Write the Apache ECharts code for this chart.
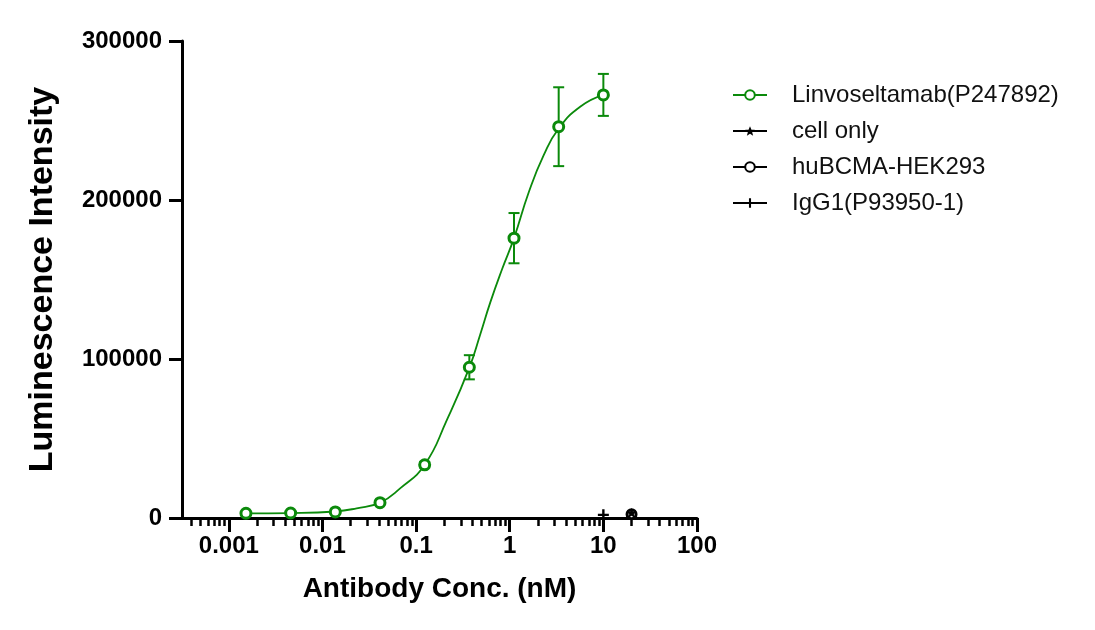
<!DOCTYPE html>
<html>
<head>
<meta charset="utf-8">
<script src="https://cdn.jsdelivr.net/npm/echarts@6/dist/echarts.min.js"></script>
<style>
html,body{margin:0;padding:0;background:#fff;}
#chart{width:1095px;height:630px;}
</style>
</head>
<body>
<div id="chart"></div>
<script>
// ---- data (concentration in nM, luminescence) ----
var conc = [0.001524, 0.004572, 0.01372, 0.04115, 0.1235, 0.3704, 1.111, 3.333, 10];
var linvoMean = [2970, 3160, 3800, 9660, 33470, 94800, 176000, 246100, 266100];
var linvoErr  = [500, 500, 700, 1000, 1800, 7600, 15800, 24800, 13200];

// fitted curve
var fitConc = [0.001524, 0.0046, 0.0137, 0.0232, 0.0412, 0.068, 0.1235, 0.214, 0.3704, 0.485, 0.62, 0.83, 1.111, 1.6, 2.3, 3.333, 5.7, 10];
var fitVal  = [2900, 3100, 4100, 6100, 9660, 18760, 33470, 61900, 94550, 115580, 135600, 156600, 176000, 205000, 228000, 245000, 258800, 266100];

var cellOnlyConc = [20];
var cellOnlyVal  = [3200];
var hekConc = [20];
var hekVal  = [2400];
var iggConc = [10];
var iggVal  = [2000];

var xMajorTicks = [0.001, 0.01, 0.1, 1, 10, 100];
var xTickLabels = ['0.001', '0.01', '0.1', '1', '10', '100'];
var xMinorMultipliers = [2, 3, 4, 5, 6, 7, 8, 9];

var seriesNames = ['Linvoseltamab(P247892)', 'cell only', 'huBCMA-HEK293', 'IgG1(P93950-1)'];

// ---- helpers ----
var lg = function (v) { return Math.log10(v); };
var xMinLog = -3.5, xMaxLog = 2;
var majorLogs = xMajorTicks.map(lg);
var minorLogs = [];
for (var d = -4; d <= 1; d++) {
  xMinorMultipliers.forEach(function (m) {
    var v = lg(m * Math.pow(10, d));
    if (v >= xMinLog && v <= xMaxLog) minorLogs.push(v);
  });
}
function pairs(xs, ys) { return xs.map(function (x, i) { return [lg(x), ys[i]]; }); }

var green = '#0b8a0b';
var FONT = 'Liberation Sans, Arial, sans-serif';

var starPath = 'path://M0,-10 L2.9,-3.1 L9.5,-3.1 L4.3,1.2 L6.2,8.1 L0,4 L-6.2,8.1 L-4.3,1.2 L-9.5,-3.1 L-2.9,-3.1 Z';
var plusPath = 'path://M-1.3,-6 L1.3,-6 L1.3,-1.3 L6,-1.3 L6,1.3 L1.3,1.3 L1.3,6 L-1.3,6 L-1.3,1.3 L-6,1.3 L-6,-1.3 L-1.3,-1.3 Z';

var errData = conc.map(function (c, i) { return [lg(c), linvoMean[i] - linvoErr[i], linvoMean[i] + linvoErr[i]]; });

var chart = echarts.init(document.getElementById('chart'), null, { renderer: 'canvas' });

chart.setOption({
  backgroundColor: '#ffffff',
  animation: false,
  textStyle: { fontFamily: FONT },
  grid: { left: 182, right: 398, top: 41, bottom: 112, containLabel: false, outerBoundsMode: 'none' },
  legend: {
    orient: 'vertical',
    left: 727,
    top: 78,
    itemWidth: 34,
    itemHeight: 12,
    itemGap: 12,
    data: [
      { name: seriesNames[0], lineStyle: { color: green, width: 2, opacity: 1 } },
      { name: seriesNames[1] },
      { name: seriesNames[2] },
      { name: seriesNames[3] }
    ],
    textStyle: { fontSize: 24, color: '#111', fontFamily: FONT, padding: [0, 0, 0, 20] }
  },
  xAxis: [
    {
      type: 'value',
      min: xMinLog,
      max: xMaxLog,
      position: 'bottom',
      name: 'Antibody Conc. (nM)',
      nameLocation: 'middle',
      nameGap: 57,
      nameTextStyle: { fontSize: 28, fontWeight: 'bold', color: '#000', fontFamily: FONT },
      axisLine: { show: true, onZero: false, lineStyle: { color: '#000', width: 3 } },
      axisTick: { show: true, customValues: majorLogs, length: 14, lineStyle: { color: '#000', width: 3 } },
      axisLabel: {
        customValues: majorLogs,
        margin: 16,
        fontSize: 24,
        fontWeight: 'bold',
        color: '#000',
        fontFamily: FONT,
        formatter: function (v) {
          var idx = majorLogs.findIndex(function (m) { return Math.abs(m - v) < 1e-6; });
          return idx >= 0 ? xTickLabels[idx] : '';
        }
      },
      splitLine: { show: false }
    },
    {
      type: 'value',
      min: xMinLog,
      max: xMaxLog,
      position: 'bottom',
      offset: 0,
      axisLine: { show: false, onZero: false },
      axisTick: { show: true, customValues: minorLogs, length: 8, lineStyle: { color: '#000', width: 2.5 } },
      axisLabel: { show: false },
      splitLine: { show: false }
    }
  ],
  yAxis: {
    type: 'value',
    min: 0,
    max: 300000,
    interval: 100000,
    name: 'Luminescence Intensity',
    nameLocation: 'middle',
    nameGap: 122,
    nameTextStyle: { fontSize: 34, fontWeight: 'bold', color: '#000', fontFamily: FONT },
    axisLine: { show: true, onZero: false, lineStyle: { color: '#000', width: 3 } },
    axisTick: { show: true, length: 13, lineStyle: { color: '#000', width: 3 } },
    axisLabel: {
      margin: 20, fontSize: 24, fontWeight: 'bold', color: '#000', fontFamily: FONT,
      formatter: function (v) { return String(v); }
    },
    splitLine: { show: false }
  },
  series: [
    {
      name: 'fit',
      type: 'line',
      data: pairs(fitConc, fitVal),
      smooth: 0.5,
      symbol: 'none',
      lineStyle: { color: green, width: 1.8 },
      z: 3,
      silent: true
    },
    {
      name: 'errbar',
      type: 'custom',
      data: errData,
      z: 3,
      silent: true,
      renderItem: function (params, api) {
        var x = api.value(0);
        var lo = api.coord([x, api.value(1)]);
        var hi = api.coord([x, api.value(2)]);
        var cap = 5.5;
        var style = { stroke: green, lineWidth: 2, fill: null };
        return {
          type: 'group',
          children: [
            { type: 'line', shape: { x1: lo[0], y1: lo[1], x2: hi[0], y2: hi[1] }, style: style },
            { type: 'line', shape: { x1: lo[0] - cap, y1: lo[1], x2: lo[0] + cap, y2: lo[1] }, style: style },
            { type: 'line', shape: { x1: hi[0] - cap, y1: hi[1], x2: hi[0] + cap, y2: hi[1] }, style: style }
          ]
        };
      }
    },
    {
      name: seriesNames[0],
      type: 'line',
      data: pairs(conc, linvoMean),
      symbol: 'circle',
      symbolSize: 10,
      showAllSymbol: true,
      lineStyle: { color: green, width: 2, opacity: 0 },
      itemStyle: { color: '#fff', borderColor: green, borderWidth: 3 },
      z: 5
    },
    {
      name: seriesNames[2],
      type: 'line',
      data: pairs(hekConc, hekVal),
      symbol: 'circle',
      symbolSize: 9,
      lineStyle: { color: '#000', width: 2 },
      itemStyle: { color: '#fff', borderColor: '#000', borderWidth: 3 },
      z: 6
    },
    {
      name: seriesNames[1],
      type: 'line',
      data: pairs(cellOnlyConc, cellOnlyVal),
      symbol: starPath,
      symbolSize: 10,
      lineStyle: { color: '#000', width: 2 },
      itemStyle: { color: '#000' },
      z: 7
    },
    {
      name: seriesNames[3],
      type: 'line',
      data: pairs(iggConc, iggVal),
      symbol: plusPath,
      symbolSize: 11,
      lineStyle: { color: '#000', width: 2 },
      itemStyle: { color: '#000' },
      z: 7
    }
  ]
});
</script>
</body>
</html>
